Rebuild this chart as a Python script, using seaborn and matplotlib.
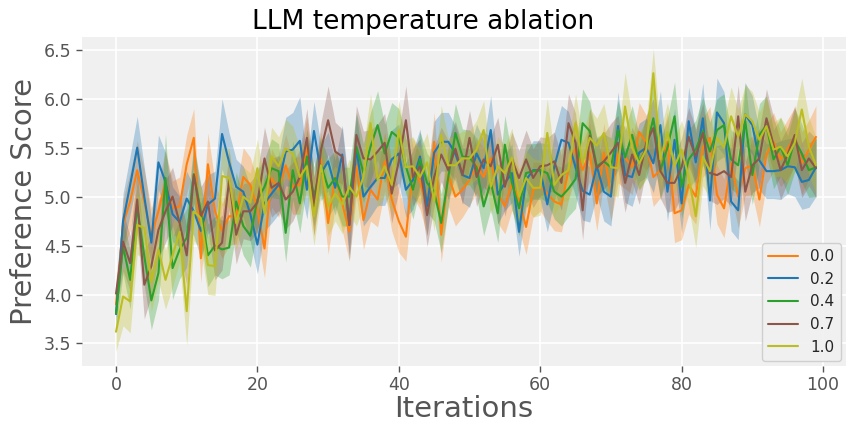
import numpy as np
import pandas as pd
import matplotlib
matplotlib.use("Agg")
import matplotlib.pyplot as plt
import seaborn as sns

# ---------------- data ----------------
temps = ["0.0", "0.2", "0.4", "0.7", "1.0"]
iterations = list(range(100))

score_00 = [3.90, 4.72, 4.95, 5.27, 4.95, 4.60, 4.85, 5.15, 4.88, 4.90, 5.33, 5.60, 4.37, 5.33, 4.85, 4.65, 4.80, 4.80, 5.20, 5.12,
            4.88, 4.47, 5.19, 5.07, 5.32, 5.10, 5.12, 5.51, 4.90, 5.38, 4.73, 5.20, 4.93, 4.64, 5.31, 4.76, 5.07, 4.97, 5.36, 4.97,
            4.75, 4.59, 5.30, 5.15, 4.90, 5.56, 4.61, 5.22, 5.00, 5.07, 5.17, 5.32, 5.20, 5.39, 5.03, 4.90, 5.14, 4.97, 4.69, 5.07,
            5.10, 5.03, 4.95, 4.92, 5.27, 5.50, 5.27, 5.45, 4.93, 5.45, 5.03, 5.44, 5.40, 5.30, 5.66, 5.55, 5.20, 5.27, 5.56, 4.83,
            4.86, 5.12, 5.00, 5.50, 5.60, 5.02, 4.88, 5.34, 5.00, 5.29, 5.32, 4.97, 5.43, 5.56, 5.38, 5.49, 5.61, 5.34, 5.48, 5.61]
score_02 = [3.80, 4.75, 5.12, 5.50, 5.00, 4.53, 5.35, 5.15, 4.82, 4.74, 4.98, 4.85, 4.65, 4.92, 4.98, 5.64, 5.35, 5.10, 5.05, 4.82,
            4.51, 4.93, 5.03, 5.12, 5.46, 5.48, 5.57, 5.07, 5.67, 5.24, 5.36, 5.09, 5.43, 4.71, 5.49, 5.00, 5.10, 5.19, 5.19, 5.38,
            5.44, 5.07, 5.17, 5.41, 4.90, 5.45, 5.56, 5.56, 5.44, 5.22, 5.19, 5.44, 5.29, 5.68, 5.02, 5.14, 5.24, 4.64, 5.17, 5.27,
            5.27, 4.92, 5.31, 5.58, 5.55, 5.30, 5.06, 5.02, 5.31, 5.05, 5.00, 5.72, 5.22, 5.20, 5.45, 5.50, 5.34, 5.73, 5.05, 5.58,
            4.93, 5.77, 5.35, 5.80, 4.96, 5.86, 5.75, 4.95, 4.86, 5.84, 5.73, 5.37, 5.26, 5.26, 5.27, 5.31, 5.30, 5.15, 5.17, 5.30]
score_04 = [3.81, 4.49, 4.15, 4.90, 4.39, 3.94, 4.22, 5.19, 4.27, 4.46, 4.58, 5.23, 4.85, 4.40, 4.50, 4.46, 4.48, 4.95, 4.70, 4.60,
            4.97, 5.10, 5.29, 5.26, 4.63, 5.27, 4.93, 5.41, 5.00, 5.32, 5.09, 5.19, 5.00, 5.00, 5.51, 5.24, 5.51, 5.73, 5.44, 5.66,
            5.60, 5.31, 5.07, 5.38, 5.14, 5.05, 4.73, 5.20, 5.65, 5.41, 5.40, 5.30, 4.90, 5.15, 4.83, 5.53, 5.14, 4.88, 5.24, 5.26,
            5.27, 5.24, 5.05, 5.00, 5.08, 5.18, 5.75, 5.67, 5.31, 5.36, 5.30, 5.68, 5.40, 5.63, 5.35, 5.49, 5.80, 5.27, 5.50, 5.82,
            5.10, 5.38, 5.48, 5.67, 5.46, 5.68, 5.73, 5.38, 5.32, 5.77, 5.22, 5.63, 5.73, 5.38, 5.51, 5.32, 5.58, 5.44, 5.27, 5.30]
score_07 = [4.01, 4.54, 4.32, 4.97, 4.10, 4.29, 4.66, 4.85, 5.00, 4.73, 4.40, 5.22, 4.80, 4.95, 4.45, 4.53, 5.17, 4.61, 4.85, 4.85,
            4.94, 5.39, 5.09, 5.14, 4.97, 5.05, 5.20, 5.60, 4.90, 5.48, 5.78, 5.46, 5.41, 4.71, 5.63, 5.39, 5.38, 5.46, 5.55, 5.03,
            5.36, 5.78, 5.20, 5.31, 4.81, 5.20, 5.43, 5.27, 5.49, 5.22, 5.60, 5.20, 5.38, 5.31, 5.53, 5.10, 5.38, 5.19, 5.38, 5.19,
            5.31, 5.32, 5.36, 5.14, 5.75, 5.55, 4.86, 5.62, 5.29, 5.36, 5.45, 5.55, 5.14, 5.43, 5.22, 5.55, 5.70, 5.26, 5.14, 5.14,
            5.30, 5.61, 5.41, 5.65, 5.24, 5.22, 5.26, 5.20, 5.82, 5.05, 5.32, 5.39, 5.80, 5.53, 5.27, 5.43, 5.63, 5.27, 5.39, 5.29]
score_10 = [3.62, 3.98, 3.93, 4.71, 4.68, 4.13, 4.46, 4.15, 4.40, 4.64, 3.83, 4.85, 4.78, 4.30, 4.29, 5.21, 5.19, 4.73, 5.00, 4.94,
            5.29, 4.83, 5.41, 5.31, 5.49, 5.44, 5.20, 5.31, 4.80, 5.32, 4.90, 5.03, 4.92, 5.10, 5.00, 5.20, 5.75, 5.17, 5.31, 5.12,
            5.68, 5.30, 5.31, 5.20, 5.35, 4.95, 5.63, 5.32, 5.32, 5.39, 5.39, 5.48, 5.68, 5.10, 5.31, 5.24, 5.40, 5.00, 5.19, 5.09,
            5.09, 5.65, 5.12, 5.22, 5.27, 5.75, 5.34, 5.60, 5.52, 5.65, 5.30, 5.29, 5.92, 5.50, 5.34, 5.48, 6.26, 5.38, 5.66, 5.31,
            5.48, 5.20, 4.80, 5.41, 5.26, 5.60, 5.50, 5.82, 5.61, 5.84, 5.77, 5.58, 5.72, 5.48, 5.51, 5.41, 5.55, 5.89, 5.51, 5.32]

# half-width of the shaded band around each mean
band_00 = [0.12, 0.25, 0.30, 0.30, 0.32, 0.28, 0.30, 0.32, 0.28, 0.30, 0.30, 0.30, 0.25, 0.32, 0.30, 0.28, 0.30, 0.28, 0.30, 0.28,
           0.28, 0.30, 0.30, 0.28, 0.32, 0.28, 0.30, 0.30, 0.30, 0.28, 0.32, 0.30, 0.28, 0.30, 0.30, 0.30, 0.32, 0.28, 0.30, 0.32,
           0.32, 0.25, 0.30, 0.28, 0.30, 0.30, 0.28, 0.32, 0.30, 0.28, 0.26, 0.28, 0.30, 0.28, 0.30, 0.28, 0.28, 0.30, 0.28, 0.28,
           0.25, 0.28, 0.30, 0.28, 0.30, 0.30, 0.28, 0.30, 0.28, 0.30, 0.28, 0.30, 0.32, 0.28, 0.30, 0.28, 0.30, 0.28, 0.30, 0.30,
           0.30, 0.30, 0.28, 0.30, 0.32, 0.30, 0.30, 0.30, 0.32, 0.28, 0.30, 0.28, 0.30, 0.30, 0.28, 0.30, 0.30, 0.32, 0.30, 0.32]
band_02 = [0.12, 0.28, 0.30, 0.32, 0.30, 0.25, 0.28, 0.30, 0.28, 0.26, 0.28, 0.25, 0.28, 0.30, 0.28, 0.36, 0.30, 0.28, 0.26, 0.28,
           0.30, 0.28, 0.30, 0.30, 0.35, 0.38, 0.45, 0.30, 0.30, 0.28, 0.30, 0.28, 0.30, 0.36, 0.35, 0.30, 0.30, 0.28, 0.28, 0.30,
           0.30, 0.28, 0.30, 0.28, 0.30, 0.32, 0.30, 0.30, 0.28, 0.28, 0.30, 0.30, 0.28, 0.35, 0.30, 0.28, 0.30, 0.25, 0.28, 0.30,
           0.30, 0.28, 0.35, 0.35, 0.32, 0.30, 0.30, 0.28, 0.30, 0.30, 0.30, 0.35, 0.28, 0.30, 0.30, 0.30, 0.30, 0.35, 0.30, 0.32,
           0.30, 0.35, 0.30, 0.36, 0.30, 0.35, 0.32, 0.30, 0.30, 0.32, 0.30, 0.30, 0.28, 0.28, 0.30, 0.28, 0.30, 0.28, 0.28, 0.30]
band_04 = [0.15, 0.28, 0.30, 0.28, 0.30, 0.30, 0.28, 0.45, 0.32, 0.30, 0.30, 0.30, 0.28, 0.32, 0.30, 0.30, 0.28, 0.30, 0.30, 0.32,
           0.30, 0.28, 0.30, 0.28, 0.30, 0.30, 0.30, 0.28, 0.30, 0.28, 0.30, 0.28, 0.30, 0.30, 0.35, 0.30, 0.35, 0.35, 0.30, 0.30,
           0.30, 0.28, 0.30, 0.28, 0.30, 0.30, 0.30, 0.30, 0.30, 0.28, 0.28, 0.30, 0.30, 0.28, 0.30, 0.30, 0.28, 0.28, 0.30, 0.28,
           0.28, 0.30, 0.28, 0.30, 0.28, 0.30, 0.35, 0.30, 0.30, 0.28, 0.30, 0.30, 0.28, 0.30, 0.28, 0.30, 0.35, 0.30, 0.30, 0.35,
           0.32, 0.30, 0.30, 0.35, 0.30, 0.32, 0.32, 0.30, 0.30, 0.40, 0.30, 0.32, 0.30, 0.30, 0.30, 0.30, 0.32, 0.30, 0.28, 0.30]
band_07 = [0.15, 0.30, 0.28, 0.30, 0.35, 0.30, 0.30, 0.32, 0.30, 0.28, 0.30, 0.28, 0.30, 0.28, 0.30, 0.28, 0.30, 0.30, 0.28, 0.30,
           0.30, 0.32, 0.30, 0.28, 0.30, 0.30, 0.28, 0.30, 0.30, 0.28, 0.35, 0.30, 0.28, 0.30, 0.30, 0.28, 0.30, 0.28, 0.30, 0.30,
           0.30, 0.35, 0.30, 0.28, 0.32, 0.30, 0.28, 0.30, 0.28, 0.30, 0.28, 0.30, 0.28, 0.30, 0.28, 0.30, 0.28, 0.28, 0.30, 0.30,
           0.30, 0.28, 0.30, 0.28, 0.30, 0.30, 0.30, 0.28, 0.30, 0.28, 0.30, 0.28, 0.30, 0.28, 0.30, 0.28, 0.30, 0.28, 0.30, 0.28,
           0.30, 0.30, 0.28, 0.30, 0.28, 0.30, 0.28, 0.30, 0.32, 0.30, 0.28, 0.30, 0.30, 0.28, 0.30, 0.28, 0.30, 0.28, 0.28, 0.30]
band_10 = [0.20, 0.30, 0.32, 0.30, 0.32, 0.30, 0.32, 0.30, 0.32, 0.30, 0.35, 0.30, 0.32, 0.30, 0.30, 0.30, 0.30, 0.28, 0.30, 0.30,
           0.30, 0.32, 0.30, 0.30, 0.30, 0.28, 0.30, 0.28, 0.30, 0.30, 0.30, 0.28, 0.30, 0.28, 0.30, 0.30, 0.30, 0.28, 0.30, 0.30,
           0.30, 0.28, 0.30, 0.28, 0.30, 0.30, 0.30, 0.28, 0.30, 0.28, 0.28, 0.30, 0.30, 0.28, 0.30, 0.28, 0.30, 0.28, 0.28, 0.30,
           0.28, 0.35, 0.30, 0.28, 0.30, 0.30, 0.28, 0.30, 0.28, 0.30, 0.28, 0.30, 0.35, 0.30, 0.28, 0.30, 0.25, 0.30, 0.30, 0.28,
           0.30, 0.30, 0.32, 0.30, 0.28, 0.30, 0.28, 0.30, 0.28, 0.30, 0.30, 0.28, 0.30, 0.28, 0.30, 0.28, 0.30, 0.32, 0.30, 0.28]

colors = ["#ff7f0e", "#1f77b4", "#2ca02c", "#8c564b", "#bcbd22"]

title = "LLM temperature ablation"
xlabel = "Iterations"
ylabel = "Preference Score"
xticks = [0, 20, 40, 60, 80, 100]
yticks = [3.5, 4.0, 4.5, 5.0, 5.5, 6.0, 6.5]

# ---------------- build long table ----------------
means = [score_00, score_02, score_04, score_07, score_10]
bands = [band_00, band_02, band_04, band_07, band_10]
rows = []
for t, m, b in zip(temps, means, bands):
    for it, mv, bv in zip(iterations, m, b):
        for v in (mv - bv, mv, mv + bv):
            rows.append({"iteration": it, "score": v, "temperature": t})
df = pd.DataFrame(rows)

# ---------------- style ----------------
sns.set_style("darkgrid", {
    "axes.facecolor": "#f0f0f0",
    "grid.color": "white",
    "axes.edgecolor": "#f0f0f0",
    "xtick.bottom": True,
    "ytick.left": True,
    "xtick.color": "#555555",
    "ytick.color": "#555555",
    "axes.labelcolor": "#555555",
})
plt.rcParams["font.family"] = ["DejaVu Sans"]

fig = plt.figure(figsize=(8.46, 4.23), dpi=100)
ax = fig.add_axes([82 / 846, 1 - 366 / 423, (846 - 82) / 846, (366 - 37) / 423])

sns.lineplot(data=df, x="iteration", y="score", hue="temperature",
             hue_order=temps, palette=dict(zip(temps, colors)),
             estimator="mean", errorbar=("pi", 100),
             err_kws={"alpha": 0.3, "linewidth": 0},
             linewidth=1.5, ax=ax)

ax.set_xlim(-4.81, 103.25)
ax.set_ylim(3.27, 6.63)
ax.set_xticks(xticks)
ax.set_yticks(yticks)
ax.tick_params(axis="both", labelsize=12.5, length=4, width=1, color="#555555")
ax.grid(True, color="white", linewidth=1.2)
for s in ax.spines.values():
    s.set_visible(False)

ax.set_title(title, fontsize=19, color="black", x=(423 - 82) / 764)
ax.set_xlabel(xlabel, fontsize=21, labelpad=0.5)
ax.set_ylabel(ylabel, fontsize=21)

handles, labels = ax.get_legend_handles_labels()
leg = ax.legend(handles, labels, loc="lower right", fontsize=11, frameon=True,
                facecolor="#f0f0f0", edgecolor="#cccccc", framealpha=0.9,
                borderaxespad=0.35)
for line in leg.get_lines():
    line.set_linewidth(1.5)

fig.savefig("out.png", dpi=100)
